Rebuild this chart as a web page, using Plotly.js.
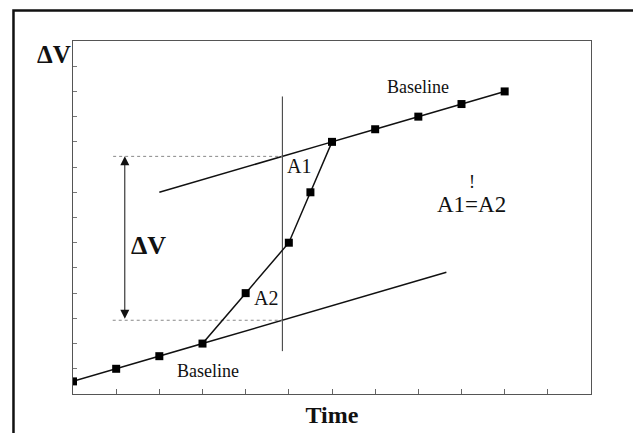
<!DOCTYPE html>
<html>
<head>
<meta charset="utf-8">
<script src="https://cdn.plot.ly/plotly-3.0.1.min.js"></script>
<style>
  html, body { margin: 0; padding: 0; background: #ffffff; }
  #chart { width: 633px; height: 433px; }
</style>
</head>
<body>
<div id="chart"></div>
<script>
// ---- data ----
var time = [0, 1, 2, 3, 4, 5, 5.5, 6, 7, 8, 9, 10];
var deltaV = [0.5, 1, 1.5, 2, 4, 6, 8, 10, 10.5, 11, 11.5, 12];

var lowerBaselineX = [3, 8.65];
var lowerBaselineY = [2, 4.825];
var upperBaselineX = [2, 6];
var upperBaselineY = [8, 10];

var cutX = [4.85, 4.85];
var cutY = [1.7, 11.8];

var upperLevelX = [0.93, 4.85];
var upperLevelY = [9.425, 9.425];
var lowerLevelX = [0.92, 4.85];
var lowerLevelY = [2.925, 2.925];

var arrowX = 1.2;
var arrowTop = 9.425;
var arrowBottom = 2.925;

var serif = "Liberation Serif, Times New Roman, serif";

var traces = [
  {x: lowerBaselineX, y: lowerBaselineY, mode: "lines", line: {color: "#111", width: 1.5}, hoverinfo: "skip"},
  {x: upperBaselineX, y: upperBaselineY, mode: "lines", line: {color: "#111", width: 1.5}, hoverinfo: "skip"},
  {x: cutX, y: cutY, mode: "lines", line: {color: "#333", width: 1}, hoverinfo: "skip"},
  {x: upperLevelX, y: upperLevelY, mode: "lines", line: {color: "#888", width: 1, dash: "dot"}, hoverinfo: "skip"},
  {x: lowerLevelX, y: lowerLevelY, mode: "lines", line: {color: "#888", width: 1, dash: "dot"}, hoverinfo: "skip"},
  {x: time, y: deltaV, mode: "lines+markers", line: {color: "#111", width: 1.5},
   marker: {symbol: "square", size: 8, color: "#000"}}
];

function txt(t, x, y, size, bold) {
  return {x: x, y: y, xref: "x", yref: "y", text: bold ? "<b>" + t + "</b>" : t,
          showarrow: false, font: {family: serif, size: size, color: "#111"},
          xanchor: "center", yanchor: "middle"};
}

var annotations = [
  txt("Baseline", 8.0, 12.18, 18),
  txt("Baseline", 3.13, 0.9, 18),
  txt("A1", 5.23, 9.03, 20),
  txt("A2", 4.47, 3.8, 20),
  txt("A1=A2", 9.22, 7.5, 23),
  txt("!", 9.24, 8.42, 18),
  txt("ΔV", 1.75, 5.9, 26, true),
  {x: -0.0367, y: 0.963, xref: "paper", yref: "paper", text: "<b>ΔV</b>", showarrow: false,
   font: {family: serif, size: 25, color: "#111"}, xanchor: "center", yanchor: "middle"},
  {x: arrowX, y: arrowTop, ax: arrowX, ay: arrowBottom, xref: "x", yref: "y", axref: "x", ayref: "y",
   text: "", showarrow: true, arrowhead: 2, startarrowhead: 2, arrowside: "end+start",
   arrowsize: 1.8, startarrowsize: 1.8, arrowwidth: 1, arrowcolor: "#111", standoff: 0, startstandoff: 0}
];

var layout = {
  width: 633, height: 433,
  margin: {l: 73, r: 42, t: 41, b: 39},
  paper_bgcolor: "#ffffff", plot_bgcolor: "#ffffff",
  showlegend: false,
  xaxis: {
    range: [0, 12], dtick: 1, tick0: 0, showticklabels: false,
    ticks: "inside", ticklen: 5, tickcolor: "#666", tickwidth: 1,
    showgrid: false, zeroline: false, showline: true, linecolor: "#555", linewidth: 1, mirror: true,
    title: {text: "<b>Time</b>", font: {family: serif, size: 24, color: "#111"}, standoff: 12}
  },
  yaxis: {
    range: [0, 14], dtick: 1, tick0: 0, showticklabels: false,
    ticks: "inside", ticklen: 4, tickcolor: "#777", tickwidth: 1,
    showgrid: false, zeroline: false, showline: true, linecolor: "#555", linewidth: 1, mirror: true
  },
  annotations: annotations,
  shapes: [
    {type: "rect", xref: "paper", yref: "paper", x0: -0.1149, x1: 1.12, y0: -0.15, y1: 1.0864,
     line: {color: "#111", width: 2.5}, fillcolor: "rgba(0,0,0,0)", layer: "above"}
  ]
};

Plotly.newPlot("chart", traces, layout, {displayModeBar: false, staticPlot: true});
</script>
</body>
</html>
